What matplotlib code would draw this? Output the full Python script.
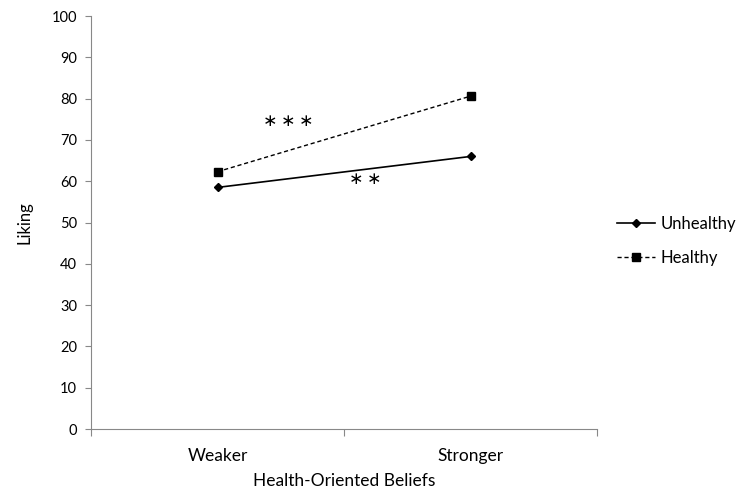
import numpy as np
import matplotlib.pyplot as plt

plt.rcParams['font.family'] = ['Lato', 'DejaVu Sans']

# data
categories = ['Weaker', 'Stronger']
unhealthy = [58.5, 66.0]
healthy = [62.3, 80.6]
y_ticks = list(range(0, 101, 10))

fig = plt.figure(figsize=(7.41, 4.96), dpi=100)
ax = fig.add_axes([0.1228, 0.135, 0.6829, 0.8327])

x = np.arange(len(categories))
ax.plot(x, unhealthy, color='black', linestyle='-', linewidth=1.2,
        marker='D', markersize=4, label='Unhealthy')
ax.plot(x, healthy, color='black', linestyle=(0, (3, 2)), linewidth=1.0,
        marker='s', markersize=5.5, label='Healthy')

# significance stars
ax.text(0.28, 74.6, '\u2217\u2009\u2217\u2009\u2217', ha='center', va='center',
        fontsize=12.5, family='DejaVu Sans')
ax.text(0.585, 60.6, '\u2217\u2009\u2217', ha='center', va='center',
        fontsize=12.5, family='DejaVu Sans')

ax.set_xlim(-0.5, 1.5)
ax.set_ylim(0, 100)
ax.set_yticks(y_ticks)
ax.tick_params(axis='y', labelsize=10.5, length=4, color='#888888', pad=6)
ax.set_xticks([-0.5, 0.5, 1.5])
ax.set_xticklabels([])
ax.set_xticks(x, minor=True)
ax.set_xticklabels(categories, minor=True, fontsize=12.5)
ax.tick_params(axis='x', which='major', length=5, direction='out', color='#888888')
ax.tick_params(axis='x', which='minor', length=0, pad=14)

for s in ['top', 'right']:
    ax.spines[s].set_visible(False)
for s in ['left', 'bottom']:
    ax.spines[s].set_color('#888888')

ax.set_ylabel('Liking', fontsize=12, labelpad=14)
ax.set_xlabel('Health-Oriented Beliefs', fontsize=12.5, labelpad=6)

ax.legend(loc='center left', bbox_to_anchor=(1.01, 0.455), frameon=False,
          fontsize=12, handlelength=2.3, handletextpad=0.3, labelspacing=1.1)

fig.savefig('out.png', dpi=100)
